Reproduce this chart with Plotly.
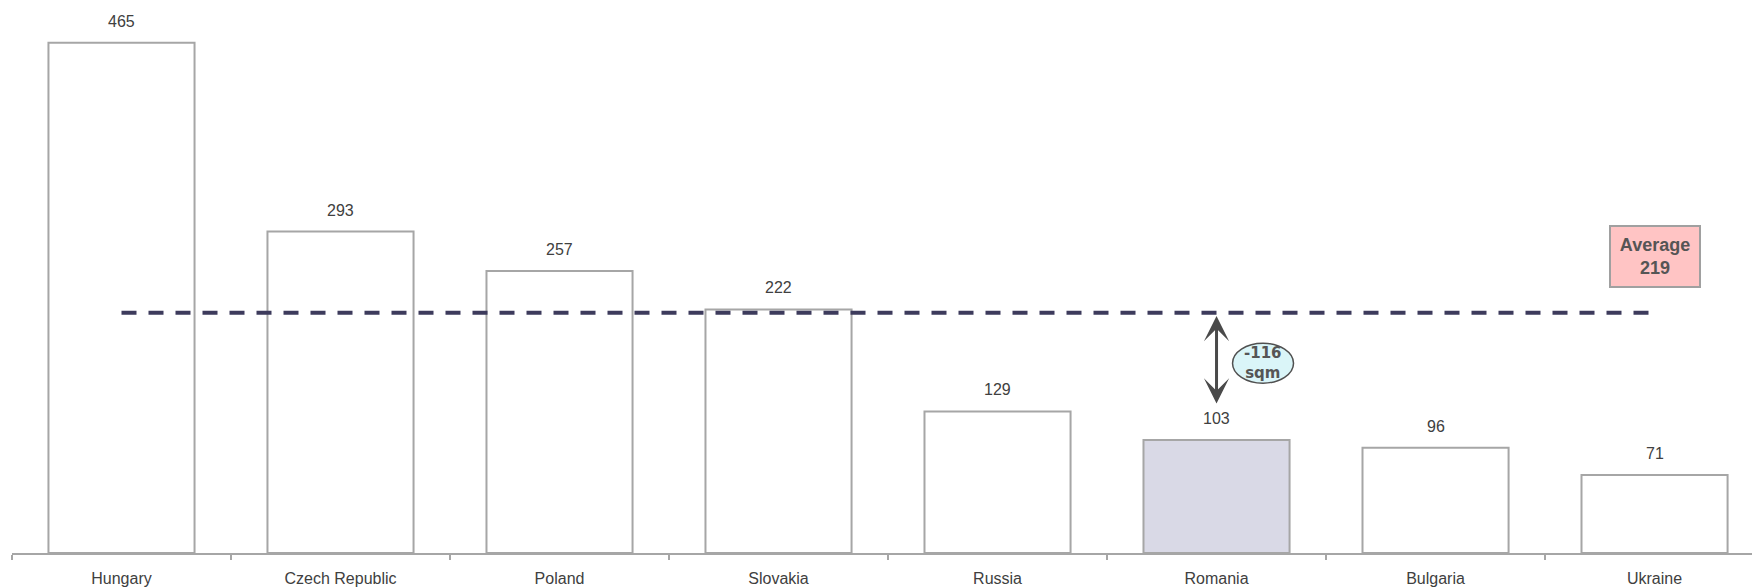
import plotly.graph_objects as go

countries = ["Hungary", "Czech Republic", "Poland", "Slovakia", "Russia", "Romania", "Bulgaria", "Ukraine"]
values = [465, 293, 257, 222, 129, 103, 96, 71]
average = 219
highlight = "Romania"
diff_label = "-116<br>sqm"

FONT = "Liberation Sans"
TEXT = "#404040"
GRAY = "#a6a6a6"

fills = ["#d9d9e6" if c == highlight else "#ffffff" for c in countries]

fig = go.Figure()
fig.add_trace(go.Bar(
    x=countries, y=values,
    marker=dict(color=fills, line=dict(color=GRAY, width=2)),
    hoverinfo="skip",
))
fig.add_trace(go.Scatter(
    x=countries, y=[average] * len(countries), mode="lines",
    line=dict(color="#3d3b5c", width=4, dash="15px,12px"),
    hoverinfo="skip",
))

annotations = []
for c, v in zip(countries, values):
    annotations.append(dict(
        x=c, y=v, text=str(v), showarrow=False, yanchor="bottom", yshift=11,
        font=dict(family=FONT, size=16, color=TEXT),
    ))

hi = countries.index(highlight)
hv = values[hi]
# double arrow between average and highlighted bar
annotations.append(dict(
    x=hi, y=average - 3, ax=hi, ay=hv + 32, xref="x", yref="y", axref="x", ayref="y",
    text="", showarrow=True, arrowhead=3, startarrowhead=3, arrowside="end+start",
    arrowsize=1.4, startarrowsize=1.4, arrowwidth=3, arrowcolor="#4a4a4a",
    standoff=0, startstandoff=0,
))
ell_y = (average + hv) / 2 + 12
annotations.append(dict(
    x=hi + 0.21, y=ell_y, text="<b>" + diff_label.replace("<br>", "</b><br><b>") + "</b>",
    showarrow=False, font=dict(family="DejaVu Sans", size=15, color="#555555"),
))
# average box
annotations.append(dict(
    x=len(countries) - 1, y=average + 51, text="<b>Average</b><br><b>%d</b>" % average,
    showarrow=False, width=86, height=57, bgcolor="#ffc4c4", bordercolor="#a0a0a0",
    borderwidth=2, font=dict(family=FONT, size=18, color="#555555"),
))

shapes = [dict(
    type="circle", xref="x", yref="y", xsizemode="pixel", ysizemode="pixel",
    xanchor=hi + 0.21, yanchor=ell_y, x0=-30, x1=31, y0=-20, y1=20,
    fillcolor="#daf5f8", line=dict(color="#505050", width=1.5), layer="above",
)]

fig.update_layout(
    width=1752, height=587,
    margin=dict(l=12, r=0, t=0, b=34),
    paper_bgcolor="white", plot_bgcolor="white",
    showlegend=False, bargap=0.333,
    annotations=annotations, shapes=shapes,
    font=dict(family=FONT, size=16, color=TEXT),
    xaxis=dict(
        type="category", range=[-0.5, 7.445], showline=True, linecolor=GRAY, linewidth=2,
        ticks="outside", tickson="boundaries", ticklen=5, tickwidth=2, tickcolor=GRAY,
        ticklabelstandoff=10,
        showgrid=False, tickfont=dict(family=FONT, size=16, color=TEXT),
    ),
    yaxis=dict(range=[0, 504], visible=False, showgrid=False, zeroline=False),
)

fig.write_html("out.html")
